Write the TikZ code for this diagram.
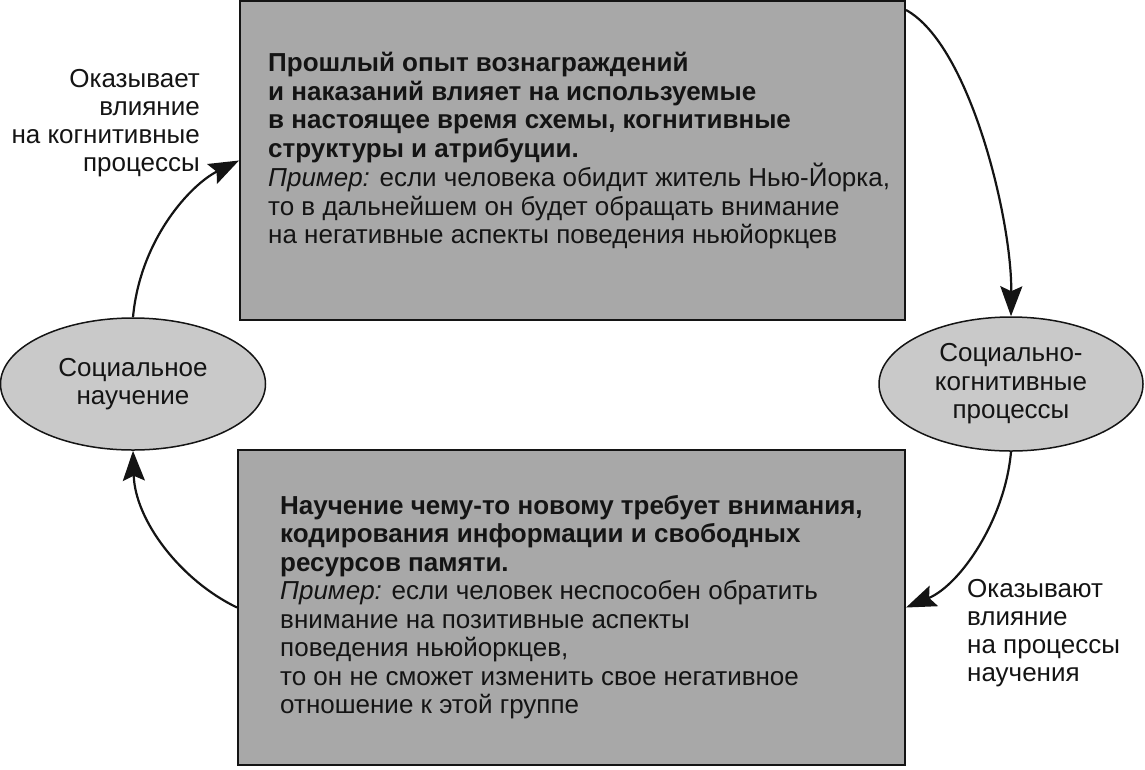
\documentclass[tikz,border=0pt]{standalone}
\usepackage{fontspec}
\setmainfont{Liberation Sans}
\usetikzlibrary{arrows.meta,shapes.geometric}
\definecolor{boxgray}{gray}{0.66}
\definecolor{ellgray}{gray}{0.79}
\definecolor{ink}{gray}{0.08}
\begin{document}
\begin{tikzpicture}[x=1pt,y=-1pt,
  boxst/.style={draw=ink, line width=2pt, fill=boxgray, rectangle, inner sep=0pt},
  ellst/.style={draw=ink, line width=1.5pt, fill=ellgray, ellipse, inner sep=0pt,
    font=\fontsize{26}{28.5}\selectfont, align=center, text=ink},
  txt/.style={inner sep=0pt, align=left, text=ink, font=\fontsize{26}{28.5}\selectfont},
  lbl/.style={inner sep=0pt, text=ink, font=\fontsize{26}{28}\selectfont},
  arr/.style={draw=ink, line width=2.2pt, -{Stealth[length=30pt,width=22pt,inset=5pt]}},
]
\useasboundingbox (0,0) rectangle (1145,769);
\node[boxst, minimum width=665pt, minimum height=319pt] (T) at (572.5,160.5) {};
\node[boxst, minimum width=667pt, minimum height=315pt] (B) at (571.5,607.5) {};
\node[ellst, minimum width=265pt, minimum height=132pt] (L) at (133,384) {Социальное\\научение};
\node[ellst, minimum width=264pt, minimum height=134pt] (R) at (1011,384) {Социально-\\когнитивные\\процессы};

\node[txt, anchor=north west] (Tt) at (268,52) {\textbf{Прошлый опыт вознаграждений}\\
\textbf{и наказаний влияет на используемые}\\
\textbf{в настоящее время схемы, когнитивные}\\
\textbf{структуры и атрибуции.}\\
\textit{Пример:} если человека обидит житель Нью-Йорка,\\
то в дальнейшем он будет обращать внимание\\
на негативные аспекты поведения ньюйоркцев};

\node[txt, anchor=north west] (Bt) at (280,495) {\textbf{Научение чему-то новому требует внимания,}\\
\textbf{кодирования информации и свободных}\\
\textbf{ресурсов памяти.}\\
\textit{Пример:} если человек неспособен обратить\\
внимание на позитивные аспекты\\
поведения ньюйоркцев,\\
то он не сможет изменить свое негативное\\
отношение к этой группе};

\node[lbl, align=right, anchor=north east] (La) at (200,69) {Оказывает\\влияние\\на когнитивные\\процессы};
\node[lbl, align=left, anchor=north west] (Ra) at (967,579) {Оказывают\\влияние\\на процессы\\научения};

\draw[arr] (L.north) .. controls (140,240) and (190,185) .. (T.west);
\draw[arr] ([yshift=-10pt]T.north east) .. controls (970,45) and (1012,220) .. (R.north);
\draw[arr] (R.south) .. controls (1005,520) and (960,585) .. (B.east);
\draw[arr] (B.west) .. controls (180,580) and (135,520) .. (L.south);
\end{tikzpicture}
\end{document}
